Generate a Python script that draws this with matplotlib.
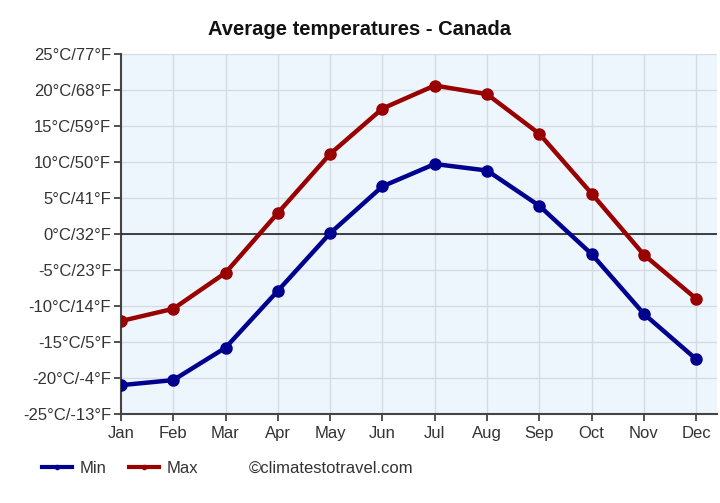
import matplotlib.pyplot as plt
from matplotlib.lines import Line2D

months = ['Jan', 'Feb', 'Mar', 'Apr', 'May', 'Jun', 'Jul', 'Aug', 'Sep', 'Oct', 'Nov', 'Dec']
t_min = [-21.0, -20.3, -15.8, -7.9, 0.1, 6.6, 9.7, 8.8, 3.9, -2.8, -11.1, -17.4]
t_max = [-12.1, -10.4, -5.4, 2.9, 11.1, 17.4, 20.6, 19.4, 13.9, 5.6, -2.9, -9.0]
c_ticks = [25, 20, 15, 10, 5, 0, -5, -10, -15, -20, -25]

plt.rcParams['font.family'] = ['Liberation Sans', 'DejaVu Sans']

blue = '#00008f'
red = '#990000'

fig = plt.figure(figsize=(7.2, 5.03), dpi=100)
ax = fig.add_axes([0.168, 0.177, 0.828, 0.716])
ax.set_facecolor('#eef6fd')

x = list(range(len(months)))
ax.plot(x, t_min, color=blue, lw=3.2, marker='o', ms=8, zorder=4)
ax.plot(x, t_max, color=red, lw=3.2, marker='o', ms=8, zorder=4)
ax.axhline(0, color='#222222', lw=1.2, zorder=3)

ax.set_xlim(0, 11.4)
ax.set_ylim(-25, 25)
ax.set_xticks(x)
ax.set_xticklabels(months)
ax.set_yticks(c_ticks)
ax.set_yticklabels([f'{c}°C/{round(c * 9 / 5 + 32)}°F' for c in c_ticks])
ax.grid(True, color='#d5dbe2', lw=1)
ax.set_axisbelow(True)
for side in ['top', 'right']:
    ax.spines[side].set_visible(False)
for side in ['left', 'bottom']:
    ax.spines[side].set_color('#444444')
    ax.spines[side].set_linewidth(1.5)
ax.tick_params(labelsize=12, colors='#333333', length=5, width=1.2, pad=2)
ax.tick_params(axis='x', pad=4)

fig.text(0.5, 0.942, 'Average temperatures - Canada', ha='center', va='center',
         fontsize=14.5, fontweight='bold', color='#111111')

handles = [Line2D([], [], color=blue, lw=3, marker='o', ms=3),
           Line2D([], [], color=red, lw=3, marker='o', ms=3)]
fig.legend(handles, ['Min', 'Max'], loc='center left', bbox_to_anchor=(0.037, 0.068),
           ncol=2, frameon=False, fontsize=12, handlelength=1.8, handletextpad=0.45,
           columnspacing=1.4, labelcolor='#333333')
fig.text(0.345, 0.068, '©climatestotravel.com', ha='left', va='center',
         fontsize=12, color='#333333')

fig.savefig('out.png', dpi=100)
